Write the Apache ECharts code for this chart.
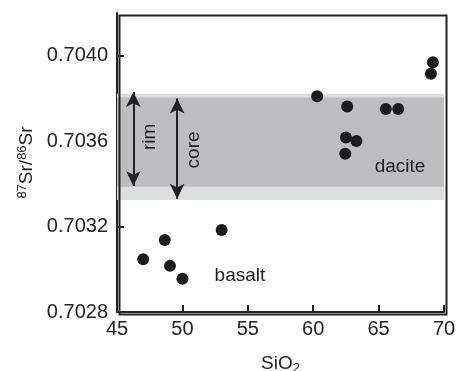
<!DOCTYPE html>
<html><head><meta charset="utf-8">
<script src="https://cdn.jsdelivr.net/npm/echarts@6/dist/echarts.min.js"></script>
<style>html,body{margin:0;padding:0;background:#fff}#c{width:456px;height:371px}</style>
</head><body><div id="c"></div>
<script>
const daciteSiO2 = [60.3, 62.6, 62.5, 63.3, 62.45, 65.55, 66.5, 69.15, 69.0];
const daciteSr   = [0.70381, 0.703762, 0.703617, 0.703601, 0.703541, 0.70375, 0.70375, 0.703969, 0.703916];
const basaltSiO2 = [53.0, 48.65, 47.0, 49.05, 50.0];
const basaltSr   = [0.703184, 0.703137, 0.703047, 0.703016, 0.702956];
const outerBand = [0.703325, 0.703822];
const innerBand = [0.703387, 0.703804];
const rimArrow = {x: 46.25, y: [0.70383, 0.70339]};
const coreArrow = {x: 49.6, y: [0.7038, 0.70333]};
const xTicks = [45, 50, 55, 60, 65, 70];
const yTicks = [0.7028, 0.7032, 0.7036, 0.7040];

const font = 'Liberation Sans, Arial, Helvetica, sans-serif';
const pts = daciteSiO2.map((x,i)=>[x, daciteSr[i]]).concat(basaltSiO2.map((x,i)=>[x, basaltSr[i]]));
const chart = echarts.init(document.getElementById('c'));
const txt = (name, coord, rotate) => ({name, coord, symbol:'circle', symbolSize:0,
  label:{show:true, formatter:name, position:'inside', rotate:rotate||0, color:'#222', fontSize:19, fontFamily:font}});
chart.setOption({
  animation:false,
  grid:{left:117, right:12, top:13, bottom:59, show:false, containLabel:false, outerBoundsMode:'none'},
  xAxis:{type:'value', min:45, max:70, interval:5,
    name:'{a|SiO}{s|2}', nameLocation:'middle', nameGap:41,
    nameTextStyle:{rich:{a:{fontSize:19, color:'#222', fontFamily:font}, s:{fontSize:13, color:'#222', fontFamily:font, verticalAlign:'bottom', padding:[9,0,0,0]}}},
    axisLine:{show:true, onZero:false, lineStyle:{color:'#222', width:2}},
    axisTick:{show:true, inside:true, length:7, customValues:xTicks, lineStyle:{color:'#222', width:2}},
    axisLabel:{color:'#222', fontSize:20, fontFamily:font, margin:7, customValues:xTicks},
    splitLine:{show:false}},
  yAxis:{type:'value', min:0.7028, max:0.7042, interval:0.0004,
    name:'{s|87}{a|Sr/}{s|86}{a|Sr}', nameLocation:'middle', nameGap:78, nameRotate:90,
    nameTextStyle:{rich:{a:{fontSize:19, color:'#222', fontFamily:font}, s:{fontSize:13, color:'#222', fontFamily:font, padding:[0,0,9,0]}}},
    axisLine:{show:true, onZero:false, lineStyle:{color:'#222', width:2}},
    axisTick:{show:true, inside:true, length:7, customValues:yTicks, lineStyle:{color:'#222', width:2}},
    axisLabel:{color:'#222', fontSize:20, fontFamily:font, margin:9, customValues:yTicks,
      formatter:v=>{const t=yTicks.find(k=>Math.abs(k-v)<1e-9); return t===undefined?'':t.toFixed(4);}},
    splitLine:{show:false}},
  series:[
    {type:'line', data:[], markArea:{silent:true, itemStyle:{color:'#dcdddf'}, data:[[{xAxis:45, yAxis:outerBand[0]},{xAxis:70, yAxis:outerBand[1]}]]}},
    {type:'line', data:[], markArea:{silent:true, itemStyle:{color:'#bdbdbf'}, data:[[{xAxis:45, yAxis:innerBand[0]},{xAxis:70, yAxis:innerBand[1]}]]},
      markLine:{silent:true, symbol:['arrow','arrow'], symbolSize:[11,15], label:{show:false},
        lineStyle:{color:'#222', width:2, type:'solid'},
        data:[[{coord:[rimArrow.x, rimArrow.y[0]]},{coord:[rimArrow.x, rimArrow.y[1]]}],
              [{coord:[coreArrow.x, coreArrow.y[0]]},{coord:[coreArrow.x, coreArrow.y[1]]}]]},
      markPoint:{silent:true, data:[txt('rim',[47.52,0.70362],90), txt('core',[50.89,0.703559],90), txt('dacite',[66.64,0.70348]), txt('basalt',[54.4,0.702969])]}},
    {type:'scatter', data:pts, symbolSize:12, itemStyle:{color:'#1c1c1c', opacity:1}, z:5}
  ],
  graphic:[{type:'rect', left:117, top:13, shape:{width:327, height:299}, style:{fill:null, stroke:'#222', lineWidth:2}, silent:true, z:10}]
});
</script></body></html>
